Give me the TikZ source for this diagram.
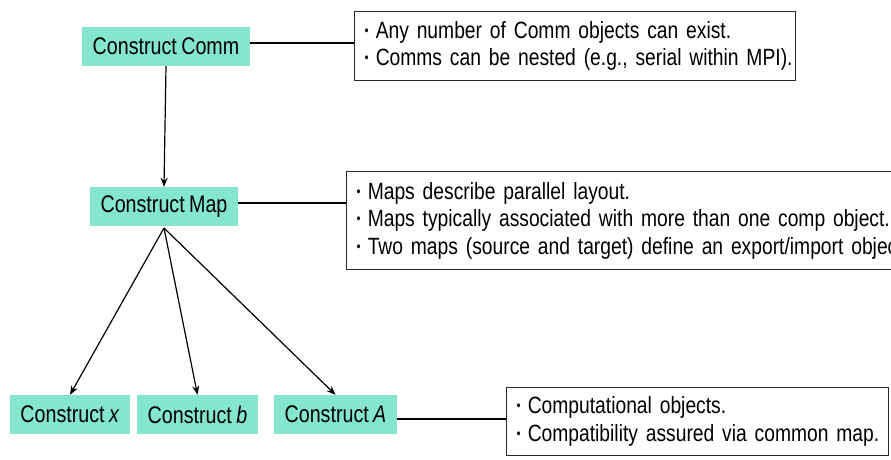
\documentclass[tikz,border=0pt]{standalone}
\usepackage{fontspec}
\setmainfont[FakeStretch=0.82,WordSpace=0.8]{Liberation Sans}
\usetikzlibrary{arrows.meta}
\definecolor{boxfill}{RGB}{132,230,206}
\definecolor{notedraw}{RGB}{40,40,40}
\tikzset{
  cbox/.style={fill=boxfill, draw=none, inner sep=0pt, minimum height=39pt, font=\fontsize{24}{28}\selectfont},
  note/.style={draw=notedraw, line width=1.3pt, fill=white, inner xsep=10pt, inner ysep=0pt, align=left, anchor=north west, font=\fontsize{23.5}{27.5}\selectfont},
  link/.style={line width=2pt, black},
  arr/.style={line width=1.2pt, -{Stealth[length=9pt,width=7pt]}}
}
\newcommand{\bul}{\raisebox{0.25ex}{\scalebox{0.6}{\textbullet}}\hspace{0.3em}}
\newcommand{\nline}[1]{\mbox{\bul #1}}
\begin{document}
\begin{tikzpicture}[x=1pt,y=-1pt]
\useasboundingbox (0,0) rectangle (891,459);
\clip (0,0) rectangle (891,459);
\fill[white] (0,0) rectangle (891,459);
% nodes
\node[cbox, minimum width=168pt] (comm) at (166,46.5) {Construct Comm};
\node[cbox, minimum width=148pt] (map) at (164,206.5) {Construct Map};
\node[cbox, minimum width=120pt] (x) at (70,414.5) {Construct \textit{x}};
\node[cbox, minimum width=121pt] (b) at (197.5,414.5) {Construct \textit{b}};
\node[cbox, minimum width=123pt] (A) at (335.5,414.5) {Construct \textit{A}};
% notes
\node[note, text width=421pt, minimum height=69pt] (n1) at (354,11)
  {\nline{Any number of Comm objects can exist.}\\ \nline{Comms can be nested (e.g., serial within MPI).}};
\node[note, text width=620pt, minimum height=98pt] (n2) at (346,171)
  {\nline{Maps describe parallel layout.}\\ \nline{Maps typically associated with more than one comp object.}\\ \nline{Two maps (source and target) define an export/import object.}};
\node[note, text width=362pt, minimum height=68pt] (n3) at (506,387)
  {\nline{Computational objects.}\\ \nline{Compatibility assured via common map.}};
% connectors to notes
\draw[link] (comm.east |- 0,43) -- (n1.west |- 0,43);
\draw[link] (map.east |- 0,203) -- (n2.west |- 0,203);
\draw[link] (A.east |- 0,419) -- (n3.west |- 0,419);
% arrows
\coordinate (mb) at (164,228);
\draw[arr] (comm.south) -- (map.north);
\draw[arr] (mb) -- (x.north);
\draw[arr] (mb) -- (b.north);
\draw[arr] (mb) -- (A.north);
\end{tikzpicture}
\end{document}
